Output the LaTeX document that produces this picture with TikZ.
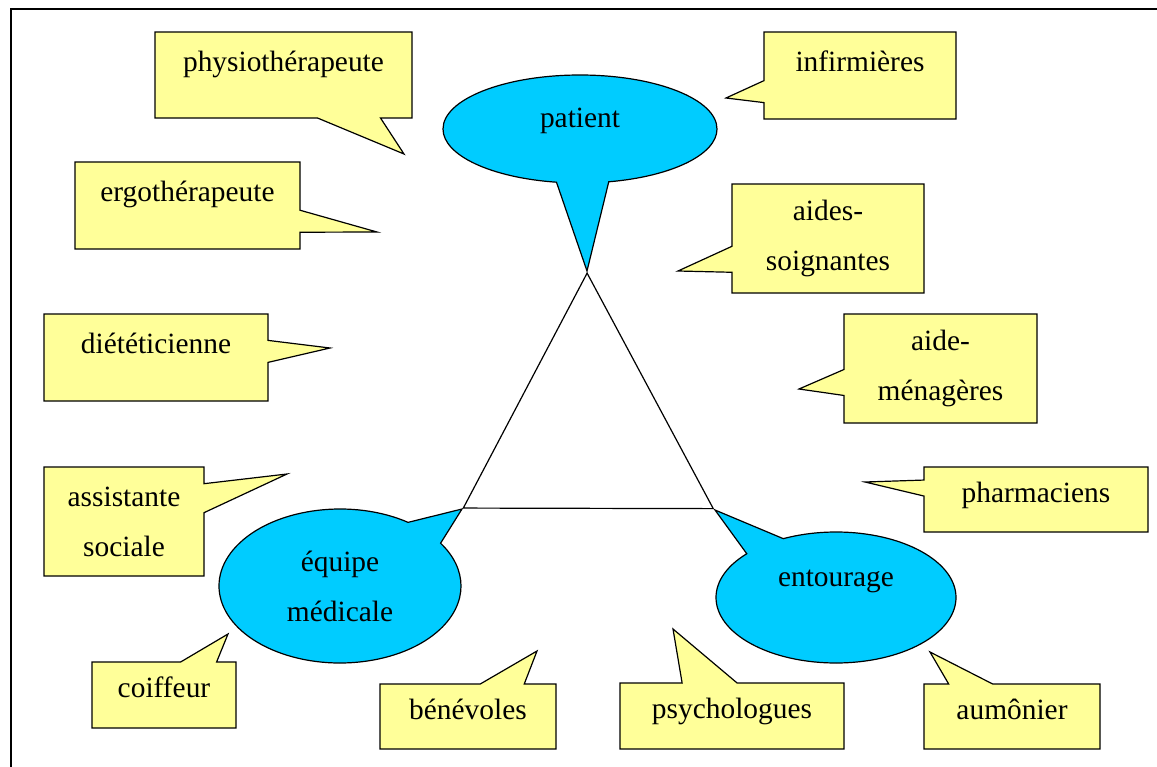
\documentclass[tikz,border=0pt]{standalone}
\usepackage{fontspec}
\setmainfont{Liberation Serif}
\usetikzlibrary{shapes.callouts}
\definecolor{noteyellow}{RGB}{255,255,153}
\definecolor{bubbleblue}{RGB}{0,204,255}
\tikzset{
	every node/.style={font=\fontsize{14.7}{25}\selectfont, align=center},
	note/.style={rectangle callout, draw, fill=noteyellow, line width=.6pt, inner sep=0pt, callout pointer width=#1},
	note/.default=11pt,
	bubble/.style={ellipse callout, draw, fill=bubbleblue, line width=.6pt, inner sep=0pt, callout pointer arc=22},
	raised/.style={text height=10pt, text depth=#1},
	raised/.default=7.5pt,
}

\begin{document}
\begin{tikzpicture}[x=.5pt,y=-.5pt]
\useasboundingbox (0,0) rectangle (1157,766);
\clip (0,0) rectangle (1157,766);
\draw[line width=1pt] (10.5,8.5) rectangle (1200,800);
% left column
\node[note=31.5pt, raised=14pt, minimum width=128.5pt, minimum height=43pt, callout absolute pointer={(404,154)}] (physio) at (283.5,75) {physiothérapeute};
\node[note, raised=14pt, minimum width=112.5pt, minimum height=43.5pt, callout absolute pointer={(377,232)}] (ergo) at (187.5,205.5) {ergothérapeute};
\node[note, raised=14pt, minimum width=112pt, minimum height=43.5pt, callout absolute pointer={(330,348)}] (diet) at (156,357.5) {diététicienne};
\node[note=14.5pt, minimum width=80pt, minimum height=54.5pt, callout absolute pointer={(287,474)}] (social) at (124,521.5) {assistante\\sociale};
% bottom row
\node[note=18pt, raised, minimum width=72pt, minimum height=33pt, callout absolute pointer={(228,634)}] (coiffeur) at (164,695) {coiffeur};
\node[note=22pt, raised, minimum width=88pt, minimum height=32.5pt, callout absolute pointer={(537,651)}] (benevoles) at (468,716.5) {bénévoles};
\node[note=27.5pt, raised, minimum width=112pt, minimum height=33pt, callout absolute pointer={(673,629)}] (psycho) at (732,716) {psychologues};
\node[note=22pt, raised, minimum width=88pt, minimum height=32.5pt, callout absolute pointer={(930,652)}] (aumonier) at (1012,716.5) {aumônier};
% right column
\node[note=8pt, raised, minimum width=112pt, minimum height=32.5pt, callout absolute pointer={(865,482)}] (pharma) at (1036,499.5) {pharmaciens};
\node[note=13pt, minimum width=96.5pt, minimum height=54.5pt, callout absolute pointer={(799,389)}] (menage) at (940.5,368.5) {aide-\\ménagères};
\node[note=13pt, minimum width=96pt, minimum height=54.5pt, callout absolute pointer={(678,271)}] (soins) at (828,238.5) {aides-\\soignantes};
\node[note, raised=14pt, minimum width=96pt, minimum height=43.5pt, callout absolute pointer={(726,98)}] (infirm) at (860,75.5) {infirmières};
% the three poles
\node[bubble, raised=12pt, minimum width=137pt, minimum height=54pt, callout absolute pointer={(587,271)}] (patient) at (580,129) {patient};
\node[bubble, minimum width=121pt, minimum height=77pt, callout absolute pointer={(462,509)}] (equipe) at (340,586) {équipe\\médicale};
\node[bubble, raised=21.5pt, minimum width=120pt, minimum height=65.5pt, callout absolute pointer={(715,510)}] (entourage) at (836,597.5) {entourage};
\draw[line width=.6pt] (patient.pointer) -- (equipe.pointer) -- (entourage.pointer) -- cycle;
\end{tikzpicture}
\end{document}
